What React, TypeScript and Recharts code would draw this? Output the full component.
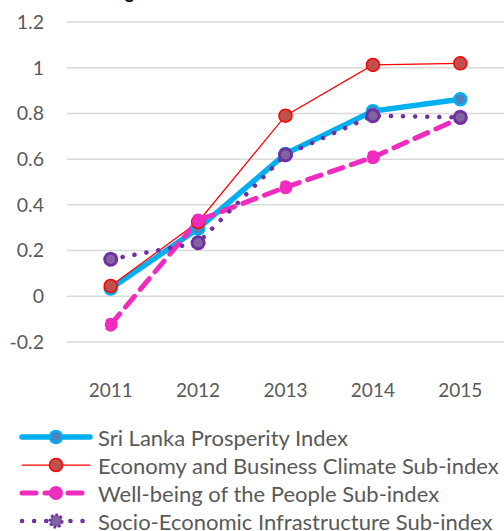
import { LineChart, Line, XAxis, YAxis, CartesianGrid } from 'recharts'

const years = ['2011', '2012', '2013', '2014', '2015']
const prosperity = [0.034, 0.296, 0.623, 0.81, 0.862]
const economy = [0.045, 0.325, 0.79, 1.012, 1.019]
const wellbeing = [-0.124, 0.332, 0.477, 0.608, 0.78]
const infrastructure = [0.162, 0.234, 0.619, 0.79, 0.783]
const yTicks = [-0.2, 0, 0.2, 0.4, 0.6, 0.8, 1, 1.2]

const data = years.map((year, i) => ({
  year,
  prosperity: prosperity[i],
  economy: economy[i],
  wellbeing: wellbeing[i],
  infrastructure: infrastructure[i],
}))

const font = 'Lato, "Noto Sans", sans-serif'
const grey = '#595959'

const series = [
  {
    key: 'prosperity',
    name: 'Sri Lanka Prosperity Index',
    stroke: '#00B0F0',
    width: 5.5,
    dash: undefined as string | undefined,
    dot: { r: 6, fill: '#4F81BD', stroke: '#00B0F0', strokeWidth: 2.5 },
  },
  {
    key: 'economy',
    name: 'Economy and Business Climate Sub-index',
    stroke: '#FF0000',
    width: 1.25,
    dash: undefined,
    dot: { r: 6.5, fill: '#C0504D', stroke: '#FF0000', strokeWidth: 1.5 },
  },
  {
    key: 'wellbeing',
    name: 'Well-being of the People Sub-index',
    stroke: '#F02BC0',
    width: 5,
    dash: '14 9',
    dot: { r: 6, fill: '#F02BC0', stroke: '#F02BC0', strokeWidth: 2 },
  },
  {
    key: 'infrastructure',
    name: 'Socio-Economic Infrastructure Sub-index',
    stroke: '#7030A0',
    width: 4.5,
    dash: '0.1 12',
    dot: { r: 6, fill: '#8064A2', stroke: '#7030A0', strokeWidth: 3, strokeDasharray: '2.5 2' },
  },
]

function LegendIcon({ s }: { s: (typeof series)[number] }) {
  return (
    <svg width={76} height={20} style={{ display: 'block' }}>
      <line
        x1={4}
        y1={10}
        x2={72}
        y2={10}
        stroke={s.stroke}
        strokeWidth={s.width}
        strokeDasharray={s.dash}
        strokeLinecap="round"
      />
      <circle cx={38} cy={10} {...s.dot} />
    </svg>
  )
}

export default function App() {
  return (
    <div style={{ position: 'absolute', left: 0, top: 0, width: 504, height: 531, background: '#fff', overflow: 'hidden' }}>
      <div
        style={{
          position: 'absolute',
          left: 110,
          top: -19,
          fontFamily: font,
          fontWeight: 'bold',
          fontSize: 18,
          color: '#000',
          whiteSpace: 'nowrap',
        }}
      >
        Figure 1: SLPI and the Sub-indices
      </div>
      <LineChart width={504} height={531} data={data} margin={{ top: 22, right: 0, bottom: 129, left: 0 }}>
        <CartesianGrid vertical={false} stroke="#d9d9d9" strokeWidth={1.5} />
        <XAxis
          dataKey="year"
          axisLine={false}
          tickLine={false}
          height={60}
          tickMargin={36}
          padding={{ left: 43.7, right: 43.7 }}
          tick={{ fill: grey, fontSize: 19, fontFamily: font }}
        />
        <YAxis
          type="number"
          domain={[-0.2, 1.2]}
          ticks={yTicks}
          width={67}
          axisLine={false}
          tickLine={false}
          tickMargin={17}
          tick={{ fill: grey, fontSize: 19.5, fontFamily: font }}
        />
        {series.map(s => (
          <Line
            key={s.key}
            dataKey={s.key}
            name={s.name}
            stroke={s.stroke}
            strokeWidth={s.width}
            strokeDasharray={s.dash}
            strokeLinecap="round"
            dot={s.dot}
            activeDot={false}
            isAnimationActive={false}
          />
        ))}
      </LineChart>
      <div style={{ position: 'absolute', left: 18, top: 423, fontFamily: font, fontSize: 22, color: grey }}>
        {series.map(s => (
          <div key={s.key} style={{ display: 'flex', alignItems: 'center', height: 28 }}>
            <LegendIcon s={s} />
            <span style={{ marginLeft: 4, whiteSpace: 'nowrap' }}>{s.name}</span>
          </div>
        ))}
      </div>
    </div>
  )
}
